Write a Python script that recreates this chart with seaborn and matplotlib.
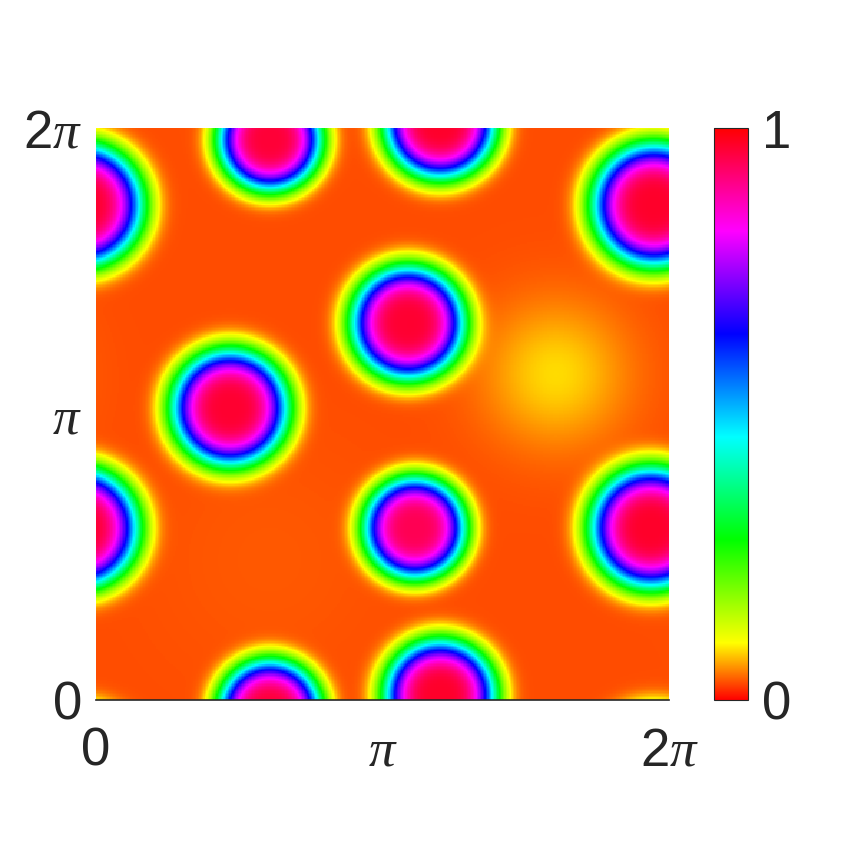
import matplotlib
matplotlib.use('Agg')
import matplotlib.pyplot as plt
import numpy as np
import seaborn as sns
from matplotlib.colors import LinearSegmentedColormap

# spot centres and ring radii, in units of pi (domain is periodic, [0, 2pi) x [0, 2pi))
spot_x = [1.948, 1.937, 0.607, 1.201, 1.089, 0.468, 1.113]
spot_y = [1.731, 0.601, 1.960, 0.016, 1.318, 1.021, 0.601]
spot_r = [0.265, 0.260, 0.222, 0.239, 0.244, 0.251, 0.220]
spot_peak = [0.97, 0.97, 0.96, 0.97, 0.965, 0.965, 0.94]

# faint broad bumps in the background
bump_x = [1.605, 0.606]
bump_y = [1.14, 0.490]
bump_w = [0.17, 0.30]
bump_amp = [0.056, 0.005]
background = 0.03

# colour stops of the bar
cmap_pos = [0.0, 0.10, 0.28, 0.46, 0.64, 0.82, 1.0]
cmap_col = ['#ff0000', '#ffff00', '#00ff00', '#00ffff', '#0000ff', '#ff00ff', '#ff0000']

n = 400
g = (np.arange(n) + 0.5) / n * 2.0  # in units of pi
X, Y = np.meshgrid(g, g)


def pdist(a, b):
    d = np.abs(a - b)
    return np.minimum(d, 2.0 - d)


Z = np.full_like(X, background)
for bx, by, bw, ba in zip(bump_x, bump_y, bump_w, bump_amp):
    r2 = pdist(X, bx) ** 2 + pdist(Y, by) ** 2
    Z += ba * np.exp(-r2 / (2 * bw ** 2))
for sx, sy, sr, sp in zip(spot_x, spot_y, spot_r, spot_peak):
    r = np.sqrt(pdist(X, sx) ** 2 + pdist(Y, sy) ** 2)
    s = sr / np.log(10) ** 0.25
    Z += (sp - background) * np.exp(-(r / s) ** 4)
Z = np.clip(Z, 0, 1)

cmap = LinearSegmentedColormap.from_list('ring', list(zip(cmap_pos, cmap_col)), N=2048)

sns.set_style('white')
plt.rcParams['font.family'] = ['Liberation Sans', 'DejaVu Sans']
plt.rcParams['mathtext.fontset'] = 'custom'
plt.rcParams['mathtext.rm'] = 'Liberation Sans'
plt.rcParams['mathtext.it'] = 'Liberation Serif:italic'
txt = '#262626'

fig = plt.figure(figsize=(8.6, 8.6), dpi=100)
ax = fig.add_axes([96 / 860, 160 / 860, 573 / 860, 572 / 860])
cax = fig.add_axes([714 / 860, 160 / 860, 34 / 860, 572 / 860])

sns.heatmap(Z[::-1], cmap=cmap, vmin=0, vmax=1, ax=ax, cbar_ax=cax,
            xticklabels=False, yticklabels=False, rasterized=True)

ax.set_xticks([0, n / 2, n])
ax.set_xticklabels(['0', r'$\pi$', r'$2\pi$'], fontsize=38, color=txt)
ax.set_yticks([n, n / 2, 0])
ax.set_yticklabels(['0', r'$\pi$', r'$2\pi$'], fontsize=38, color=txt, rotation=0)
ax.tick_params(axis='x', length=0, pad=19)
ax.tick_params(axis='y', length=0, pad=10)
ax.spines['bottom'].set_visible(True)
ax.spines['bottom'].set_color(txt)
ax.spines['bottom'].set_linewidth(1.2)
ax.set_xlabel('')
ax.set_ylabel('')

cbar = ax.collections[0].colorbar
cbar.set_ticks([0, 1])
cbar.set_ticklabels(['0', '1'], fontsize=38, color=txt)
cax.tick_params(length=0, pad=10)
cbar.outline.set_visible(True)
cbar.outline.set_edgecolor(txt)
cbar.outline.set_linewidth(0.8)

fig.savefig('out.png', dpi=100)
